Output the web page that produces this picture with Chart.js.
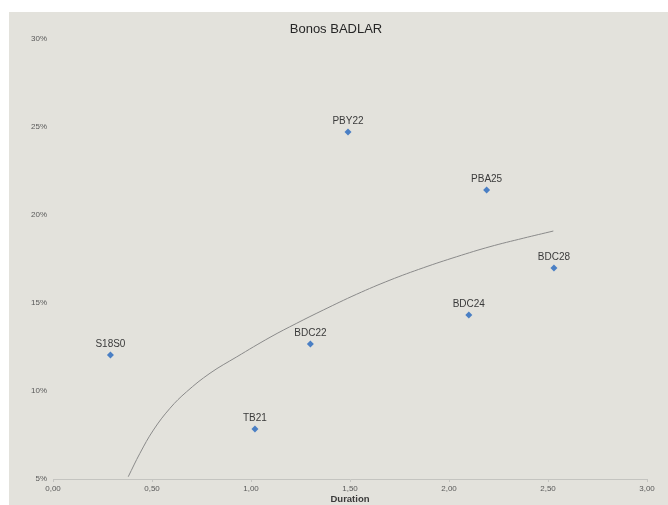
<!DOCTYPE html>
<html>
<head>
<meta charset="utf-8">
<script src="https://cdn.jsdelivr.net/npm/chart.js@4.4.1/dist/chart.umd.min.js"></script>
<style>
  html, body { margin: 0; padding: 0; background: #fff; }
  #wrap { position: relative; width: 668px; height: 505px; overflow: hidden; }
  #bg { position: absolute; left: 9px; top: 12px; right: 0; bottom: 0; background: #e3e2dc; }
  canvas { position: absolute; left: 0; top: 0; }
</style>
</head>
<body>
<div id="wrap">
  <div id="bg"></div>
  <canvas id="chart" width="668" height="505"></canvas>
</div>
<script>
// ===== DATOS =====
const bonos     = ['S18S0', 'TB21', 'BDC22', 'PBY22', 'PBA25', 'BDC24', 'BDC28'];
const duration  = [0.29, 1.02, 1.30, 1.49, 2.19, 2.10, 2.53];
const tasa      = [12.05, 7.84, 12.67, 24.72, 21.42, 14.32, 16.99];

// Línea de tendencia
const trendX = [0.380, 0.439, 0.507, 0.591, 0.675, 0.793, 0.928, 1.096, 1.231, 1.365, 1.534, 1.702, 1.870, 2.039, 2.207, 2.375, 2.527];
const trendY = [5.13, 6.46, 7.78, 9.02, 9.96, 11.01, 11.94, 13.05, 13.85, 14.60, 15.50, 16.30, 17.00, 17.63, 18.20, 18.68, 19.09];

const xTicks = { min: 0, max: 3, step: 0.5 };
const yTicks = { min: 5, max: 30, step: 5 };

// Etiquetas sobre cada punto + título
const pointLabels = {
  id: 'pointLabels',
  afterDatasetsDraw(chart) {
    const ctx = chart.ctx;
    const meta = chart.getDatasetMeta(1);
    ctx.save();
    ctx.font = '10px "Liberation Sans", Arial, sans-serif';
    ctx.fillStyle = '#3a3a3a';
    ctx.textAlign = 'center';
    ctx.textBaseline = 'alphabetic';
    meta.data.forEach((pt, i) => {
      ctx.fillText(bonos[i], pt.x, pt.y - 8);
    });
    ctx.font = '13px "Liberation Sans", Arial, sans-serif';
    ctx.fillStyle = '#262626';
    ctx.fillText('Bonos BADLAR', 336, 33);
    ctx.restore();
  }
};

new Chart(document.getElementById('chart'), {
  type: 'scatter',
  data: {
    datasets: [
      {
        label: 'Tendencia',
        type: 'line',
        data: trendX.map((x, i) => ({ x, y: trendY[i] })),
        borderColor: '#8a8a8a',
        borderWidth: 1,
        pointRadius: 0,
        fill: false,
        tension: 0.4
      },
      {
        label: 'Bonos',
        data: duration.map((x, i) => ({ x, y: tasa[i] })),
        pointStyle: 'rectRot',
        pointRadius: 3.5,
        backgroundColor: '#4a7fc4',
        borderColor: '#4a7fc4',
        borderWidth: 0
      }
    ]
  },
  options: {
    responsive: false,
    animation: false,
    layout: { padding: { top: 39, right: 21, left: 0, bottom: 0 } },
    plugins: { legend: { display: false }, tooltip: { enabled: false }, title: { display: false } },
    scales: {
      x: {
        type: 'linear',
        min: xTicks.min, max: xTicks.max,
        afterFit: s => { s.height = 26; },
        ticks: {
          stepSize: xTicks.step,
          padding: 2,
          color: '#595959',
          font: { family: 'Liberation Sans', size: 8 },
          callback: v => v.toFixed(2).replace('.', ',')
        },
        grid: { drawOnChartArea: false, drawTicks: true, tickLength: 3, color: '#c4c4c0' },
        border: { color: '#c4c4c0' },
        title: {
          display: true, text: 'Duration', color: '#3a3a3a',
          padding: { top: 0, bottom: 0 },
          font: { family: 'Liberation Sans', size: 9.5, weight: 'bold' }
        }
      },
      y: {
        min: yTicks.min, max: yTicks.max,
        afterFit: s => { s.width = 53; },
        ticks: {
          stepSize: yTicks.step,
          padding: -2,
          color: '#595959',
          font: { family: 'Liberation Sans', size: 8 },
          callback: v => v + '%'
        },
        grid: { display: false },
        border: { display: false }
      }
    }
  },
  plugins: [pointLabels]
});
</script>
</body>
</html>
